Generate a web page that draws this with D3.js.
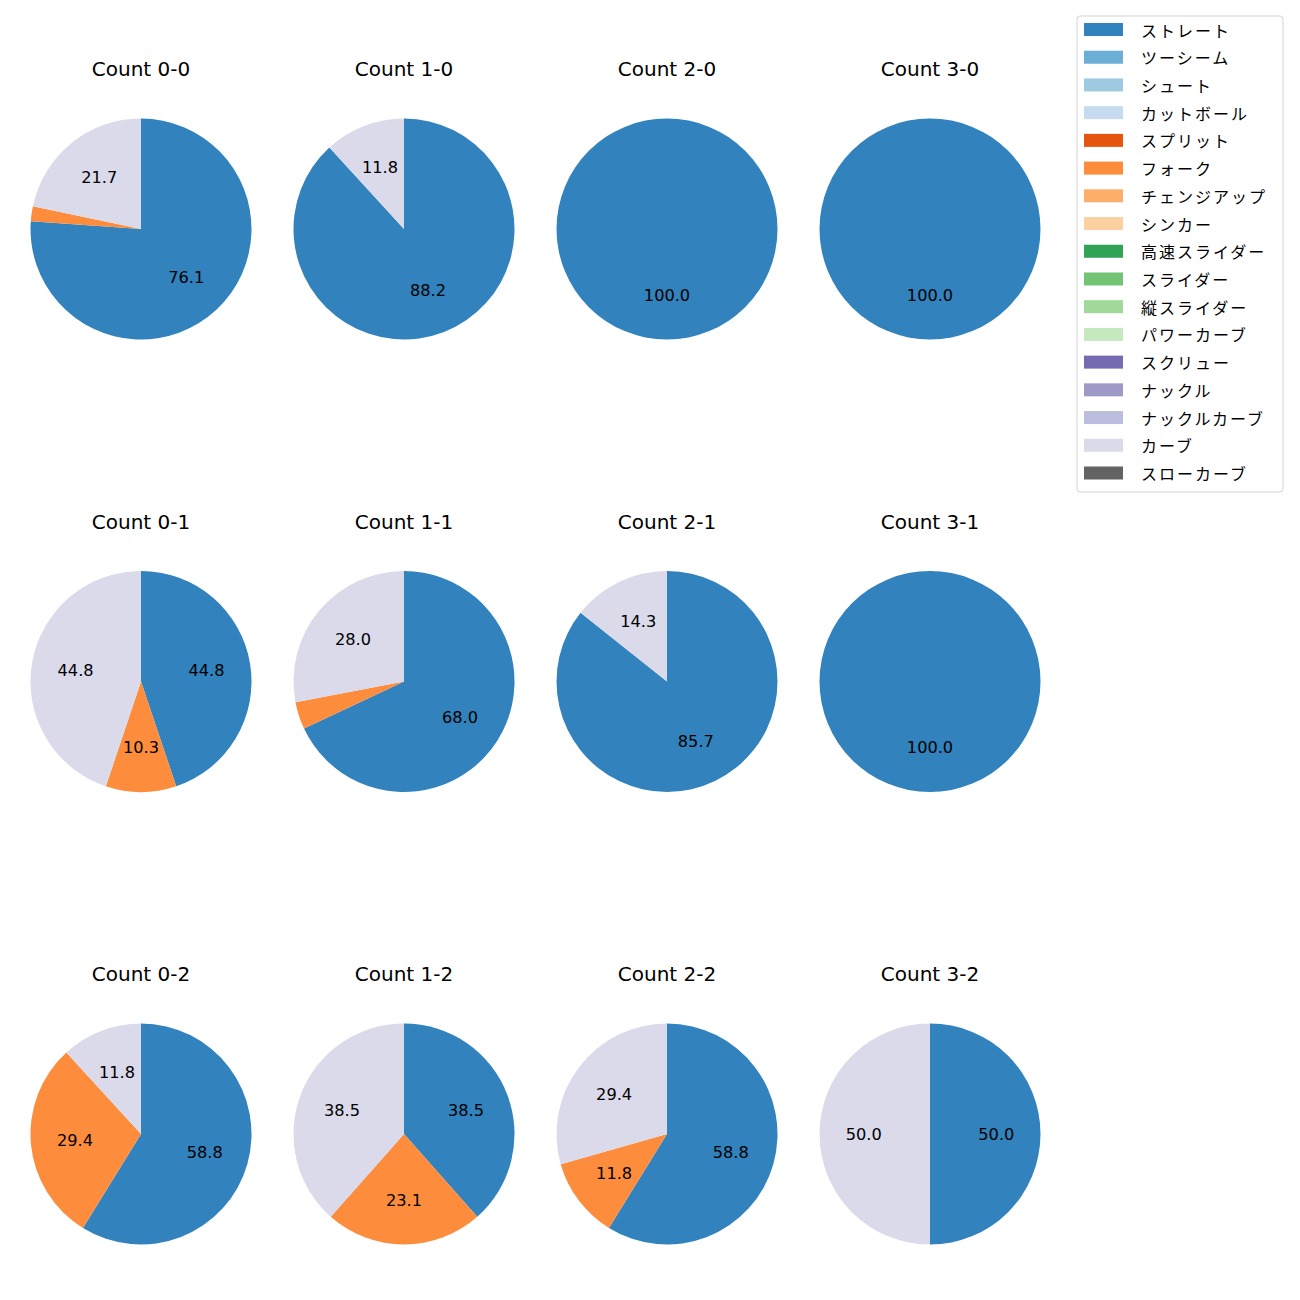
<!DOCTYPE html>
<html><head><meta charset="utf-8">
<script src="https://cdn.jsdelivr.net/npm/d3@7"></script>
<style>body{margin:0;background:#fff;} svg{display:block;}</style>
</head><body>
<script>
const pitchTypes = ["ストレート","ツーシーム","シュート","カットボール","スプリット","フォーク","チェンジアップ","シンカー","高速スライダー","スライダー","縦スライダー","パワーカーブ","スクリュー","ナックル","ナックルカーブ","カーブ","スローカーブ"];
const pitchColors = ["#3182bd","#6baed6","#9ecae1","#c6dbef","#e6550d","#fd8d3c","#fdae6b","#fdd0a2","#31a354","#74c476","#a1d99b","#c7e9c0","#756bb1","#9e9ac8","#bcbddc","#dadaeb","#636363"];
const counts = ["0-0","1-0","2-0","3-0","0-1","1-1","2-1","3-1","0-2","1-2","2-2","3-2"];
// values per count: ストレート, フォーク, カーブ
const straightVals = [76.1, 88.2, 100, 100, 44.8, 68.0, 85.7, 100, 58.8, 38.5, 58.8, 50.0];
const forkVals     = [2.2, 0, 0, 0, 10.3, 4.0, 0, 0, 29.4, 23.1, 11.8, 0];
const curveVals    = [21.7, 11.8, 0, 0, 44.8, 28.0, 14.3, 0, 11.8, 38.5, 29.4, 50.0];

const W = 1300, H = 1300;
const svg = d3.select("body").append("svg").attr("width", W).attr("height", H);
const font = "'Noto Sans CJK JP', 'DejaVu Sans', sans-serif";
const latinFont = "'DejaVu Sans', sans-serif";

const colX = d3.scalePoint().domain([0,1,2,3]).range([141, 930]);
const rowY = d3.scalePoint().domain([0,1,2]).range([229, 1134]);
const R = 110.5;
const color = d3.scaleOrdinal().domain(pitchTypes).range(pitchColors);

const pie = d3.pie().sort(null).value(d => d.v).startAngle(0).endAngle(2*Math.PI);
const arc = d3.arc().innerRadius(0).outerRadius(R);
const labelArc = d3.arc().innerRadius(R*0.6).outerRadius(R*0.6);

counts.forEach((c, i) => {
  const col = i % 4, row = Math.floor(i / 4);
  const cx = colX(col), cy = rowY(row);
  const data = [
    {k:"ストレート", v: straightVals[i]},
    {k:"フォーク", v: forkVals[i]},
    {k:"カーブ", v: curveVals[i]}
  ].filter(d => d.v > 0);
  const g = svg.append("g").attr("transform", `translate(${cx},${cy})`);
  const arcs = pie(data);
  g.selectAll("path").data(arcs).enter().append("path")
    .attr("d", arc).attr("fill", d => color(d.data.k));
  g.selectAll("text.lbl").data(arcs.filter(d => d.data.v >= 5)).enter().append("text")
    .attr("class","lbl")
    .attr("transform", d => `translate(${labelArc.centroid(d)})`)
    .attr("text-anchor","middle").attr("dominant-baseline","central")
    .attr("font-family", latinFont).attr("font-size", 16.2).attr("fill","#000")
    .text(d => d.data.v.toFixed(1));
  svg.append("text").attr("x", cx).attr("y", cy - 160)
    .attr("text-anchor","middle").attr("dominant-baseline","central")
    .attr("font-family", latinFont).attr("font-size", 20).attr("fill","#000")
    .text("Count " + c);
});

// legend
const lg = svg.append("g");
lg.append("rect").attr("x", 1077).attr("y", 16).attr("width", 206).attr("height", 476)
  .attr("rx", 3).attr("fill", "#fff").attr("stroke", "#d4d4d4").attr("stroke-width", 1);
const ly = d3.scaleLinear().domain([0, pitchTypes.length - 1]).range([29.5, 473]);
pitchTypes.forEach((p, i) => {
  lg.append("rect").attr("x", 1084).attr("y", ly(i) - 6.5).attr("width", 39).attr("height", 13)
    .attr("fill", color(p));
  lg.append("text").attr("x", 1141).attr("y", ly(i)).attr("dominant-baseline","central")
    .attr("font-family", font).attr("font-size", 16).attr("letter-spacing", "2px").attr("fill","#000").text(p);
});
</script>
</body></html>
